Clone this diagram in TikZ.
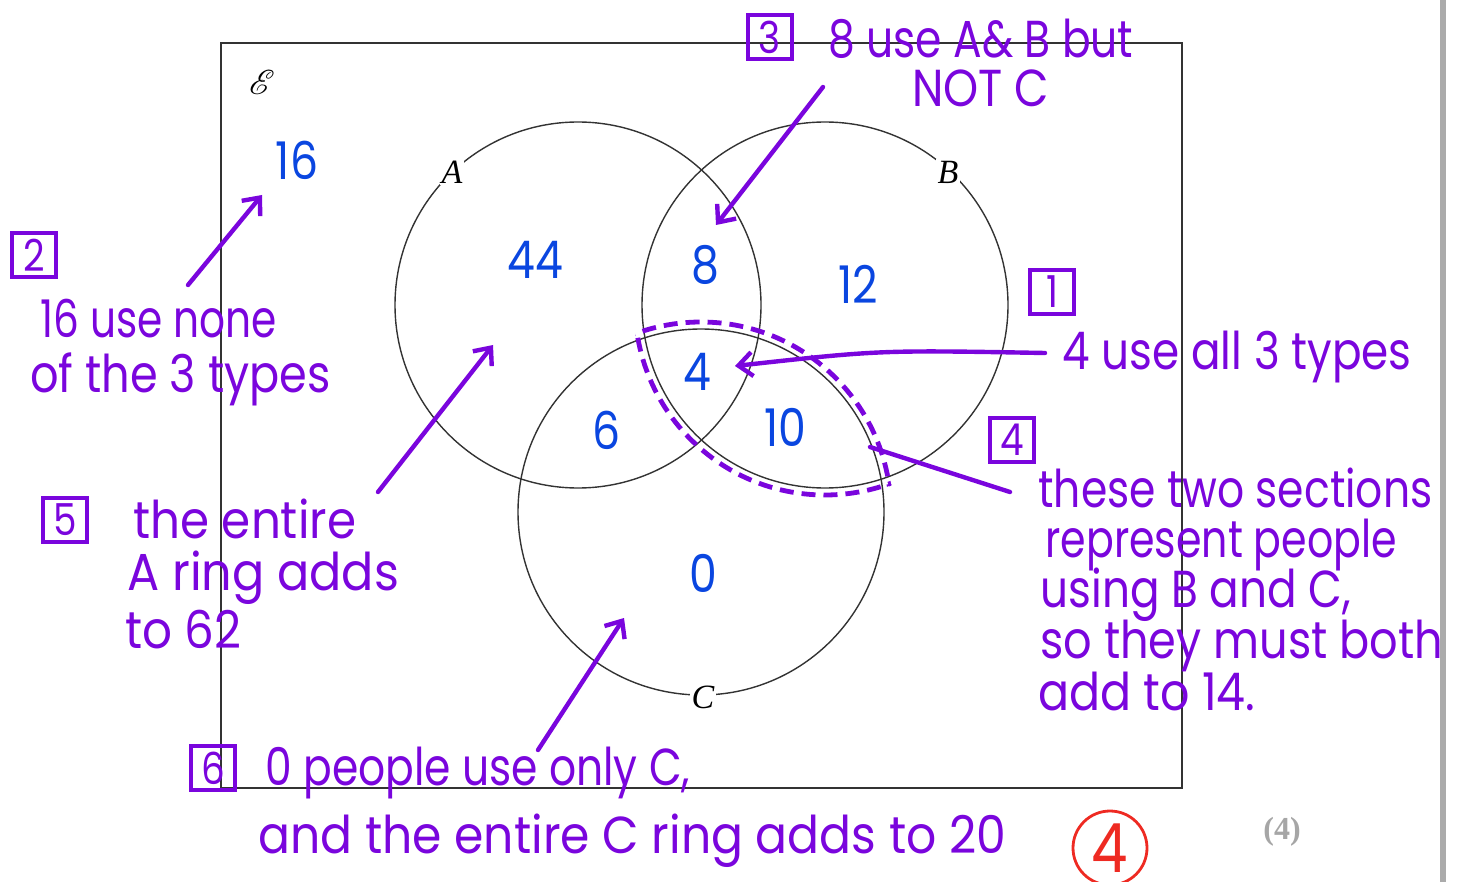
\documentclass[tikz,border=0pt]{standalone}
\usepackage{fontspec}
\usepackage{mathrsfs}
\usepackage{graphicx}
\usetikzlibrary{arrows.meta}
\newfontfamily\hand[FakeStretch=0.85]{Poppins}
\newfontfamily\printfont{Liberation Serif}
\newcommand\sx[2]{\scalebox{#1}[1]{#2}}
\definecolor{pen}{HTML}{7A05DD}
\definecolor{num}{HTML}{0A46E0}
\definecolor{mark}{HTML}{EE2A22}
\definecolor{frame}{HTML}{333333}
\tikzset{
  setc/.style={draw=frame, line width=0.7pt},
  setlabel/.style={font=\printfont\fontsize{17}{20}\selectfont\itshape, inner sep=1pt},
  numtxt/.style={text=num, font=\hand\fontsize{26}{28}\selectfont, inner sep=0pt},
  note/.style={text=pen, font=\hand\fontsize{26}{28}\selectfont, anchor=base west, inner sep=0pt},
  numbox/.style={draw=pen, line width=1.8pt, text=pen, font=\hand\fontsize{22}{24}\selectfont, minimum width=22pt, minimum height=22pt, inner sep=0pt},
  penline/.style={draw=pen, line width=2.2pt, line cap=round},
  penarrow/.style={penline, -{Straight Barb[length=7pt,width=12pt,line width=2.2pt]}},
  lens/.style={draw=pen, line width=2.4pt, dash pattern=on 7pt off 4pt}
}
\begin{document}
\begin{tikzpicture}[x=0.5pt,y=-0.5pt]
\useasboundingbox (0,0) rectangle (1457,882);
% page edge bar
\draw[draw=black!33, line width=2.6pt] (1443,0) -- (1443,882);
% universal set
\draw[draw=frame, line width=1pt] (221,43) rectangle (1182,788);
\node (E) at (262,82) {\fontsize{17}{19}\selectfont$\mathscr{E}$};
% circles
\draw[setc] (578,305) circle[radius=183];
\draw[setc] (825,305) circle[radius=183];
\draw[setc] (701,512) circle[radius=183];
\node[setlabel, fill=white] (lA) at (452,172) {A};
\node[setlabel, fill=white] (lB) at (948,172) {B};
\node[setlabel, fill=white] (lC) at (703,697) {C};
% numbers
\node[numtxt] (n16) at (297,160) {16};
\node[numtxt] (n44) at (535,260) {44};
\node[numtxt] (n8) at (705,265) {8};
\node[numtxt] (n12) at (858,284) {12};
\node[numtxt] (n4) at (697,372) {4};
\node[numtxt] (n6) at (607,430) {6};
\node[numtxt] (n10) at (785,427) {10};
\node[numtxt] (n0) at (703,573) {0};
% dashed lens B and C
\begin{scope}
\clip (701,512) circle[radius=192];
\draw[lens] (825,305) circle[radius=190];
\end{scope}
\begin{scope}
\clip (825,305) circle[radius=192];
\draw[lens] (701,512) circle[radius=190];
\end{scope}
% annotation 3
\node[numbox] (b3) at (770,37) {3};
\node[note] (t3) at (828,58) {\sx{0.96}{8 use A\& B but}};
\node[note] (t3b) at (912,107) {\sx{1.01}{NOT C}};
\coordinate (a3s) at (823,87);
\coordinate (a3e) at (716,225);
\draw[penarrow] (a3s) -- (a3e);
% annotation 2
\node[numbox] (b2) at (34,255) {2};
\node[note] (t2) at (40,338) {\sx{0.92}{16 use none}};
\node[note] (t2b) at (30,393) {\sx{1.01}{of the 3 types}};
\coordinate (a2s) at (188,285);
\coordinate (a2e) at (262,195);
\draw[penarrow] (a2s) -- (a2e);
% annotation 1
\node[numbox] (b1) at (1052,292) {1};
\node[note] (t1) at (1062,370) {\sx{0.99}{4 use all 3 types}};
\coordinate (a1s) at (1045,353);
\coordinate (a1e) at (735,366);
\draw[penarrow] (a1s) .. controls (880,350) .. (a1e);
% annotation 4
\node[numbox] (b4) at (1012,440) {4};
\node[note] (t4a) at (1038,507) {\sx{0.96}{these two sections}};
\node[note] (t4b) at (1045,557) {\sx{0.93}{represent people}};
\node[note] (t4c) at (1040,607) {\sx{0.99}{using B and C,}};
\node[note] (t4d) at (1040,658) {\sx{1.01}{so they must both}};
\node[note] (t4e) at (1038,710) {\sx{1.04}{add to 14.}};
\coordinate (a4s) at (1010,492);
\coordinate (a4e) at (870,447);
\draw[penline] (a4s) -- (a4e);
% annotation 5
\node[numbox] (b5) at (65,520) {5};
\node[note] (t5) at (133,538) {\sx{1.06}{the entire}};
\node[note] (t5b) at (127,590) {\sx{1.08}{A ring adds}};
\node[note] (t5c) at (125,648) {\sx{1.06}{to 62}};
\coordinate (a5s) at (378,492);
\coordinate (a5e) at (493,345);
\draw[penarrow] (a5s) -- (a5e);
% annotation 6
\node[numbox] (b6) at (213,768) {6};
\node[note] (t6) at (265,785) {\sx{0.96}{0 people use only C,}};
\node[note] (t6b) at (258,853) {\sx{1.07}{and the entire C ring adds to 20}};
\coordinate (a6s) at (538,750);
\coordinate (a6e) at (624,618);
\draw[penarrow] (a6s) -- (a6e);
% score
\node[draw=mark, line width=1.4pt, circle, minimum size=37pt, inner sep=0pt, text=mark, font=\hand\fontsize{34}{36}\selectfont] (score) at (1110,848) {4};
\node[text=black!35, font=\printfont\fontsize{16}{18}\selectfont\bfseries] (marks) at (1282,832) {(4)};
\end{tikzpicture}
\end{document}
